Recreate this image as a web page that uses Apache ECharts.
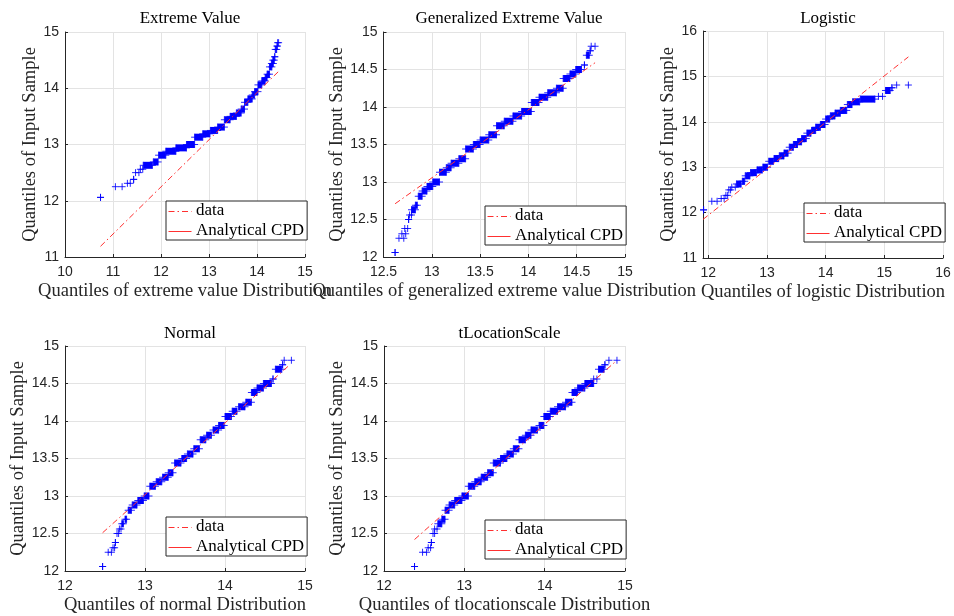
<!DOCTYPE html>
<html>
<head>
<meta charset="utf-8">
<script src="https://cdn.jsdelivr.net/npm/echarts@6/dist/echarts.min.js"></script>
<style>
html,body{margin:0;padding:0;background:#fff;}
#chart{width:954px;height:616px;}
</style>
</head>
<body>
<div id="chart"></div>
<script>
// Sample quantile levels (y values, shared by all panels) and how many samples sit on each level
const levels = [12.06, 12.25, 12.31, 12.38, 12.50, 12.56, 12.63, 12.69, 12.81, 12.88, 12.94, 13.00, 13.13, 13.19, 13.25, 13.31, 13.44, 13.50, 13.56, 13.63, 13.75, 13.81, 13.88, 13.94, 14.06, 14.13, 14.19, 14.25, 14.38, 14.44, 14.50, 14.56, 14.69, 14.75, 14.81];
const levelCounts = [1, 2, 2, 1, 2, 2, 4, 3, 5, 6, 8, 8, 8, 7, 8, 7, 7, 7, 8, 7, 7, 7, 8, 7, 7, 7, 8, 6, 5, 5, 6, 2, 3, 1, 2];

// Theoretical quantiles: first / last marker of each level, per distribution
const evX0 = [10.74, 11.05, 11.30, 11.43, 11.47, 11.57, 11.63, 11.84, 11.95, 12.10, 12.31, 12.53, 12.70, 12.87, 13.03, 13.18, 13.32, 13.44, 13.57, 13.67, 13.74, 13.81, 13.90, 13.95, 14.02, 14.10, 14.17, 14.21, 14.26, 14.30, 14.33, 14.37, 14.38, 14.42, 14.43];
const evX1 = [10.74, 11.19, 11.36, 11.43, 11.54, 11.62, 11.82, 11.94, 12.10, 12.31, 12.53, 12.70, 12.87, 13.02, 13.18, 13.32, 13.44, 13.57, 13.67, 13.74, 13.81, 13.90, 13.95, 14.02, 14.10, 14.17, 14.21, 14.26, 14.31, 14.34, 14.36, 14.37, 14.41, 14.42, 14.45];
const evRef = [[10.74, 11.19], [14.45, 14.30]];

const gevX0 = [12.62, 12.66, 12.69, 12.72, 12.76, 12.77, 12.79, 12.83, 12.86, 12.90, 12.95, 13.01, 13.08, 13.15, 13.20, 13.28, 13.35, 13.43, 13.50, 13.59, 13.67, 13.75, 13.84, 13.93, 14.03, 14.11, 14.20, 14.29, 14.36, 14.43, 14.49, 14.58, 14.60, 14.64, 14.65];
const gevX1 = [12.62, 12.71, 12.73, 12.75, 12.76, 12.79, 12.83, 12.85, 12.90, 12.95, 13.01, 13.08, 13.15, 13.20, 13.28, 13.35, 13.43, 13.50, 13.59, 13.67, 13.75, 13.84, 13.93, 14.03, 14.11, 14.20, 14.29, 14.36, 14.43, 14.49, 14.55, 14.58, 14.63, 14.64, 14.69];
const gevRef = [[12.62, 12.71], [14.69, 14.59]];

const logX0 = [11.92, 12.06, 12.22, 12.30, 12.35, 12.40, 12.48, 12.58, 12.63, 12.72, 12.83, 12.93, 13.03, 13.12, 13.21, 13.29, 13.38, 13.45, 13.52, 13.59, 13.68, 13.76, 13.83, 13.91, 14.00, 14.08, 14.16, 14.25, 14.37, 14.46, 14.59, 14.90, 15.02, 15.13, 15.21];
const logX1 = [11.92, 12.15, 12.27, 12.33, 12.38, 12.46, 12.56, 12.62, 12.71, 12.82, 12.92, 13.01, 13.11, 13.20, 13.29, 13.36, 13.45, 13.52, 13.59, 13.67, 13.75, 13.83, 13.91, 13.99, 14.07, 14.16, 14.25, 14.36, 14.45, 14.58, 14.84, 14.97, 15.10, 15.13, 15.41];
const logRef = [[11.91, 11.85], [15.41, 15.43]];

const normX0 = [12.47, 12.54, 12.60, 12.63, 12.65, 12.68, 12.71, 12.75, 12.79, 12.84, 12.91, 12.99, 13.06, 13.14, 13.22, 13.29, 13.37, 13.46, 13.53, 13.61, 13.69, 13.77, 13.85, 13.92, 14.00, 14.09, 14.17, 14.26, 14.33, 14.40, 14.48, 14.60, 14.63, 14.72, 14.74];
const normX1 = [12.47, 12.58, 12.62, 12.63, 12.67, 12.70, 12.73, 12.77, 12.83, 12.90, 12.98, 13.05, 13.13, 13.21, 13.29, 13.35, 13.45, 13.52, 13.60, 13.68, 13.76, 13.83, 13.92, 13.99, 14.08, 14.15, 14.25, 14.33, 14.40, 14.48, 14.58, 14.60, 14.71, 14.72, 14.83];
const normRef = [[12.47, 12.51], [14.81, 14.75]];

const tlsX0 = [12.38, 12.48, 12.55, 12.59, 12.61, 12.63, 12.67, 12.72, 12.76, 12.81, 12.88, 12.97, 13.05, 13.13, 13.21, 13.29, 13.36, 13.45, 13.53, 13.61, 13.68, 13.76, 13.83, 13.93, 13.99, 14.07, 14.16, 14.26, 14.34, 14.41, 14.50, 14.61, 14.67, 14.75, 14.80];
const tlsX1 = [12.38, 12.53, 12.58, 12.59, 12.63, 12.66, 12.72, 12.76, 12.81, 12.88, 12.97, 13.05, 13.13, 13.21, 13.29, 13.36, 13.45, 13.53, 13.61, 13.68, 13.76, 13.83, 13.91, 13.99, 14.07, 14.16, 14.26, 14.34, 14.41, 14.50, 14.61, 14.65, 14.74, 14.75, 14.90];
const tlsRef = [[12.38, 12.42], [14.89, 14.80]];

const titles = ['Extreme Value', 'Generalized Extreme Value', 'Logistic', 'Normal', 'tLocationScale'];
const xNames = ['Quantiles of extreme value Distribution', 'Quantiles of generalized extreme value Distribution', 'Quantiles of logistic Distribution', 'Quantiles of normal Distribution', 'Quantiles of tlocationscale Distribution'];
const yName = 'Quantiles of Input Sample';
const legendNames = ['data', 'Analytical CPD'];

const SERIF = 'Liberation Serif';
const SANS = 'Liberation Sans';
const AX = '#262626';
const RED = '#ff3030';
const DASHDOT = [6, 3, 1.5, 3];
const ICON_SOLID = 'path://M0,0h23v1h-23z';

const panels = [
  {x0: evX0, x1: evX1, ref: evRef, grid: {left: 65, top: 32, width: 240, height: 225},
   xa: {min: 10, max: 15, interval: 1}, ya: {min: 11, max: 15, interval: 1}, yGap: 25,
   legend: {left: 166, top: 201}, titleX: 185, titleY: 5},
  {x0: gevX0, x1: gevX1, ref: gevRef, grid: {left: 383.5, top: 32, width: 241.5, height: 225},
   xa: {min: 12.5, max: 15, interval: 0.5}, ya: {min: 12, max: 15, interval: 0.5}, yGap: 37,
   legend: {left: 485, top: 206}, titleX: 504, titleY: 5},
  {x0: logX0, x1: logX1, ref: logRef, grid: {left: 703, top: 31, width: 240, height: 227},
   xa: {min: 11.91, max: 16}, ya: {min: 11, max: 16, interval: 1}, yGap: 25,
   legend: {left: 804, top: 203}, titleX: 823, titleY: 5},
  {x0: normX0, x1: normX1, ref: normRef, grid: {left: 65, top: 346, width: 240, height: 226},
   xa: {min: 12, max: 15, interval: 1}, ya: {min: 12, max: 15, interval: 0.5}, yGap: 35,
   legend: {left: 166, top: 517}, titleX: 185, titleY: 320},
  {x0: tlsX0, x1: tlsX1, ref: tlsRef, grid: {left: 384, top: 346, width: 241, height: 226},
   xa: {min: 12, max: 15, interval: 1}, ya: {min: 12, max: 15, interval: 0.5}, yGap: 37,
   legend: {left: 485, top: 520}, titleX: 504.5, titleY: 320}
];

function renderCluster(params, api) {
  const y = api.value(2);
  const n = api.value(3);
  const p0 = api.coord([api.value(0), y]);
  const p1 = api.coord([api.value(1), y]);
  const a = 3.5, h = 3.5;
  const col = '#0000ff';
  const children = [];
  if (n >= 3) {
    children.push({type: 'rect', shape: {x: p0[0], y: p0[1] - h, width: Math.max(1, p1[0] - p0[0]), height: 2 * h},
      style: {fill: col}});
  }
  [p0, p1].forEach(function (p) {
    children.push({type: 'line', shape: {x1: p[0] - a, y1: p[1], x2: p[0] + a, y2: p[1]}, style: {stroke: col, lineWidth: 1, opacity: 0.85}});
    children.push({type: 'line', shape: {x1: p[0], y1: p[1] - a, x2: p[0], y2: p[1] + a}, style: {stroke: col, lineWidth: 1, opacity: 0.85}});
  });
  return {type: 'group', children: children};
}

const option = {
  animation: false,
  backgroundColor: '#fff',
  title: [], grid: [], xAxis: [], yAxis: [], legend: [], series: [], graphic: []
};

panels.forEach(function (pn, i) {
  const nmData = legendNames[0] + '#' + i;
  const nmCpd = legendNames[1] + '#' + i;
  option.title.push({
    text: titles[i], left: pn.titleX, top: pn.titleY, textAlign: 'center',
    textStyle: {fontFamily: SERIF, fontSize: 17, fontWeight: 'normal', color: '#000'}
  });
  option.grid.push(Object.assign({containLabel: false}, pn.grid));
  const common = {
    gridIndex: i, type: 'value',
    nameLocation: 'middle',
    nameTextStyle: {fontFamily: SERIF, fontSize: 18.5, color: AX},
    axisLine: {show: true, onZero: false, lineStyle: {color: AX, width: 1}},
    axisTick: {show: true, inside: true, length: 3, lineStyle: {color: AX}},
    axisLabel: {fontFamily: SANS, fontSize: 14, color: AX},
    splitLine: {show: true, lineStyle: {color: '#e3e3e3', width: 1}}
  };
  const xa = Object.assign({}, common, pn.xa, {name: xNames[i], nameGap: 25});
  xa.axisLabel = Object.assign({}, common.axisLabel, {margin: 8});
  if (pn.xa.interval === undefined) {
    xa.axisLabel.showMinLabel = false;
    xa.axisLabel.formatter = function (v) { return Math.abs(v - Math.round(v)) < 1e-6 ? String(Math.round(v)) : ''; };
  }
  const ya = Object.assign({}, common, pn.ya, {name: yName, nameGap: pn.yGap});
  ya.axisLabel = Object.assign({}, common.axisLabel, {margin: 6});
  option.xAxis.push(xa);
  option.yAxis.push(ya);

  const rows = levels.map(function (y, k) { return [pn.x0[k], pn.x1[k], y, levelCounts[k]]; });
  option.series.push({
    type: 'custom', name: 'samples#' + i, xAxisIndex: i, yAxisIndex: i,
    renderItem: renderCluster, data: rows, encode: {x: [0, 1], y: 2}, z: 2, silent: true
  });
  option.series.push({
    type: 'line', name: nmData, xAxisIndex: i, yAxisIndex: i,
    data: pn.ref, symbol: 'none', z: 3, silent: true,
    lineStyle: {color: RED, width: 1, type: DASHDOT},
    itemStyle: {color: RED}
  });
  option.series.push({
    type: 'line', name: nmCpd, xAxisIndex: i, yAxisIndex: i,
    data: [], symbol: 'none', z: 3,
    lineStyle: {color: RED, width: 1, type: 'solid'},
    itemStyle: {color: RED}
  });
  // legend: text and box from the legend component; its line glyphs drawn as graphic strokes on top
  option.legend.push({
    left: pn.legend.left, top: pn.legend.top, orient: 'vertical',
    data: [
      {name: nmData, icon: ICON_SOLID, itemStyle: {opacity: 0}},
      {name: nmCpd, icon: ICON_SOLID, itemStyle: {opacity: 0}}
    ],
    formatter: function (name) { return name.split('#')[0]; },
    selectedMode: false,
    itemWidth: 23, itemHeight: 10, itemGap: 1,
    padding: [0, 3, 0, 2],
    borderColor: AX, borderWidth: 1, backgroundColor: '#fff',
    textStyle: {fontFamily: SERIF, fontSize: 17, color: '#000', lineHeight: 19}
  });
  const gx = pn.legend.left + 2.5;
  const r1 = pn.legend.top + 10.5, r2 = pn.legend.top + 30.5;
  option.graphic.push({
    type: 'line', z: 100, silent: true,
    shape: {x1: gx, y1: r1, x2: gx + 23, y2: r1},
    style: {stroke: RED, lineWidth: 1, lineDash: DASHDOT}
  });
  option.graphic.push({
    type: 'line', z: 100, silent: true,
    shape: {x1: gx, y1: r2, x2: gx + 23, y2: r2},
    style: {stroke: RED, lineWidth: 1}
  });
});

const chart = echarts.init(document.getElementById('chart'), null, {renderer: 'canvas'});
chart.setOption(option);
</script>
</body>
</html>
